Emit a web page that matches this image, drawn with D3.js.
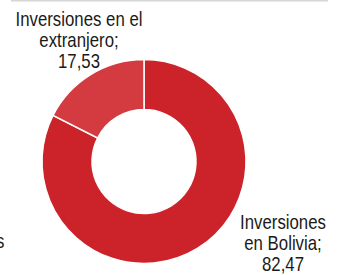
<!DOCTYPE html>
<html>
<head>
<meta charset="utf-8">
<script src="https://cdn.jsdelivr.net/npm/d3@7"></script>
<style>
  body { margin: 0; background: #fff; }
  svg { display: block; }
  text { font-family: "Liberation Sans Narrow", "Arial Narrow", "Liberation Sans", Arial, sans-serif; fill: #1a1a1a; }
</style>
</head>
<body>
<script>
const svgW = 342;
const svgH = 275;

// datos
const categories = ['Inversiones en Bolivia', 'Inversiones en el extranjero'];
const values = [82.47, 17.53];
const colors = ['#cc2229', '#d33b40'];
// etiquetas (líneas)
const labelLines = [
  ['Inversiones', 'en Bolivia;', '82,47'],
  ['Inversiones en el', 'extranjero;', '17,53']
];
const labelPos = [[283, 229], [79, 26]];
const narrow = 0.84; // sin fuente estrecha: se comprime a lo ancho
const fontSize = 20;
const lineH = 21;

const svg = d3.select('body')
              .append('svg')
              .attr('width', svgW)
              .attr('height', svgH);

// línea gris superior
svg.append('rect')
  .attr('x', 11)
  .attr('y', 0)
  .attr('width', 317)
  .attr('height', 1.5)
  .attr('fill', '#d6d6d6');

const cx = 144, cy = 161.5;
const outerR = 102, innerR = 52;

const pie = d3.pie().sort(null).value(d => d);
const arc = d3.arc().innerRadius(innerR).outerRadius(outerR);

const g = svg.append('g')
  .attr('transform', `translate(${cx}, ${cy})`);

g.selectAll('path')
  .data(pie(values))
  .enter()
  .append('path')
  .attr('d', arc)
  .attr('fill', (d, i) => colors[i])
  .attr('stroke', '#fff')
  .attr('stroke-width', 1.5);

// etiquetas
labelLines.forEach((lines, i) => {
  const t = svg.append('g')
    .attr('transform', `translate(${labelPos[i][0]}, ${labelPos[i][1]}) scale(${narrow}, 1)`)
    .append('text')
    .attr('text-anchor', 'middle')
    .attr('font-size', fontSize);
  lines.forEach((l, j) => {
    t.append('tspan')
      .attr('x', 0)
      .attr('y', j * lineH)
      .text(l);
  });
});

// etiqueta recortada a la izquierda
svg.append('g')
  .attr('transform', `translate(4.5, 248) scale(${narrow}, 1)`)
  .append('text')
  .attr('text-anchor', 'end')
  .attr('font-size', fontSize)
  .text('Inversiones');
</script>
</body>
</html>
